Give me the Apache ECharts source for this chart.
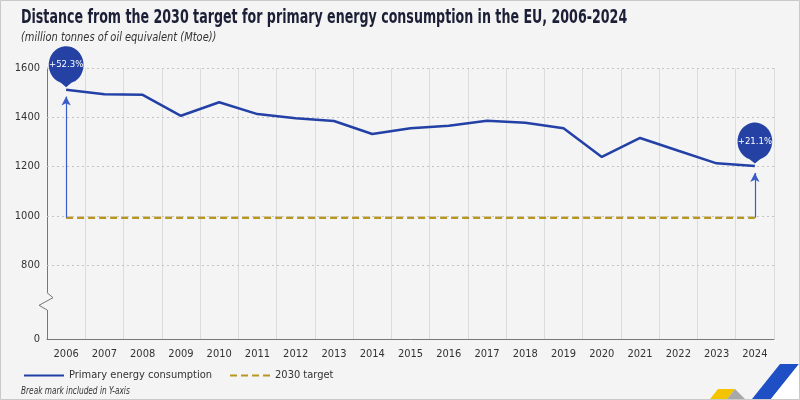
<!DOCTYPE html>
<html>
<head>
<meta charset="utf-8">
<script src="https://cdn.jsdelivr.net/npm/echarts@6/dist/echarts.min.js"></script>
<style>
html,body{margin:0;padding:0;background:#f4f4f4;}
#chart{width:800px;height:400px;}
</style>
</head>
<body>
<div id="chart"></div>
<script>
const years = ['2006','2007','2008','2009','2010','2011','2012','2013','2014','2015','2016','2017','2018','2019','2020','2021','2022','2023','2024'];
const consumption = [1512,1493,1491,1406,1461,1413,1396,1385,1332,1355,1366,1386,1378,1355,1239,1316,1264,1213,1202];
const target2030 = 992.5;
const yTickLabels = [800,1000,1200,1400,1600];
const breakBase = 500; // axis bottom, shown as 0 (axis break)

const FONT = '"DejaVu Sans Condensed","Liberation Sans Narrow",sans-serif';
const LINE_COLOR = '#2340a6';
const TARGET_COLOR = '#b8961f';
const ARROW_COLOR = '#3a5cc8';

const pct = v => '+' + ((v / target2030 - 1) * 100).toFixed(1) + '%';
const last = years.length - 1;
const bubblePath = 'path://M11.5 32.2A16.5 16.5 0 1 1 21.5 32.2L16.5 36Z';

const chart = echarts.init(document.getElementById('chart'));
const option = {
  backgroundColor: '#f4f4f4',
  animation: false,
  textStyle: {fontFamily: FONT},
  legend: {
    left: 18, top: 365, itemWidth: 40, itemHeight: 10, itemGap: 17,
    itemStyle: {opacity: 0},
    textStyle: {fontFamily: FONT, fontSize: 11, color: '#333'},
    data: ['Primary energy consumption', '2030 target']
  },
  grid: {left: 47, right: 26, top: 68, bottom: 61},
  xAxis: {
    type: 'category', data: years, boundaryGap: true,
    axisLine: {lineStyle: {color: '#777', width: 1}},
    axisTick: {show: false},
    axisLabel: {fontFamily: FONT, fontSize: 11, color: '#333', margin: 10},
    splitLine: {show: true, lineStyle: {color: '#dcdcdc', width: 1}}
  },
  yAxis: {
    type: 'value', min: breakBase, max: 1600, interval: 100,
    axisLine: {show: true, lineStyle: {color: '#777', width: 1}},
    axisTick: {show: false},
    splitLine: {show: false},
    axisLabel: {fontFamily: FONT, fontSize: 11, color: '#333', margin: 7,
      formatter: v => v === breakBase ? '0' : (yTickLabels.includes(v) ? String(v) : '')}
  },
  series: [
    {
      name: 'Primary energy consumption', type: 'line', data: consumption,
      symbol: 'none', z: 5,
      lineStyle: {color: LINE_COLOR, width: 2.5},
      itemStyle: {color: LINE_COLOR},
      markLine: {
        silent: true, symbol: 'none', animation: false,
        label: {show: false},
        lineStyle: {color: '#c4c4c4', width: 1, type: [2, 3]},
        data: yTickLabels.map(v => ({yAxis: v}))
      },
      markPoint: {
        silent: true, symbol: bubblePath, symbolSize: [38, 41], symbolKeepAspect: true,
        symbolOffset: [0, -23],
        itemStyle: {color: '#2441a3'},
        label: {show: true, position: 'inside', color: '#fff', fontFamily: FONT, fontSize: 9.5, offset: [0, -2]},
        data: [
          {coord: [years[0], consumption[0]], value: pct(consumption[0])},
          {coord: [years[last], consumption[last]], value: pct(consumption[last])}
        ]
      }
    },
    {
      name: '2030 target', type: 'line', data: years.map(() => target2030),
      symbol: 'none', z: 4,
      lineStyle: {color: TARGET_COLOR, width: 2.5, type: [7, 4]},
      itemStyle: {color: TARGET_COLOR},
      markLine: {
        silent: true, symbol: ['none', 'arrow'], symbolSize: [7, 9], animation: false,
        label: {show: false},
        lineStyle: {color: ARROW_COLOR, width: 1.2, type: 'solid'},
        data: [
          [{coord: [years[0], target2030]}, {coord: [years[0], consumption[0] - 28]}],
          [{coord: [years[last], target2030]}, {coord: [years[last], consumption[last] - 28]}]
        ]
      }
    }
  ]
};
chart.setOption(option);

// titles, axis-break mark, footnote, frame and decorative logo
const yA = chart.convertToPixel({yAxisIndex: 0}, 688);
const yB = chart.convertToPixel({yAxisIndex: 0}, 618);
const gx = 47;
const midY = (yA + yB) / 2;
chart.setOption({
  graphic: [
    {type: 'text', x: 21, y: 9, scaleX: 0.74, silent: true,
     style: {text: 'Distance from the 2030 target for primary energy consumption in the EU, 2006-2024',
             font: 'bold 19px ' + FONT, fill: '#1c2036', verticalAlign: 'top'}},
    {type: 'text', x: 21, y: 32, scaleX: 0.915, silent: true,
     style: {text: '(million tonnes of oil equivalent (Mtoe))', font: 'italic 12px ' + FONT, fill: '#333', verticalAlign: 'top'}},
    {type: 'text', x: 21, y: 386, scaleX: 0.82, silent: true,
     style: {text: 'Break mark included in Y-axis', font: 'italic 10px ' + FONT, fill: '#333', verticalAlign: 'top'}},
    {type: 'rect', shape: {x: gx - 3, y: yA, width: 6, height: yB - yA}, style: {fill: '#f4f4f4'}, z: 100, silent: true},
    {type: 'polyline', shape: {points: [[gx, yA], [gx + 6, yA + 5], [gx - 8, midY + 4], [gx, yB]]},
     style: {stroke: '#777', lineWidth: 1, fill: null}, z: 101, silent: true},
    {type: 'polygon', shape: {points: [[710, 399], [718, 389], [735, 389], [727, 399]]}, style: {fill: '#f5c400'}, silent: true},
    {type: 'polygon', shape: {points: [[727, 399], [735, 389], [745, 399]]}, style: {fill: '#a8a8a8'}, silent: true},
    {type: 'polygon', shape: {points: [[752, 399], [780, 364], [799, 364], [771, 399]]}, style: {fill: '#1f4fc4'}, silent: true},
    {type: 'polygon', shape: {points: [[771, 399], [799, 364], [799, 399]]}, style: {fill: '#ffffff'}, silent: true},
    {type: 'rect', shape: {x: 0.5, y: 0.5, width: 799, height: 399}, style: {fill: null, stroke: '#c9c9c9', lineWidth: 1}, z: 200, silent: true}
  ]
});
</script>
</body>
</html>
